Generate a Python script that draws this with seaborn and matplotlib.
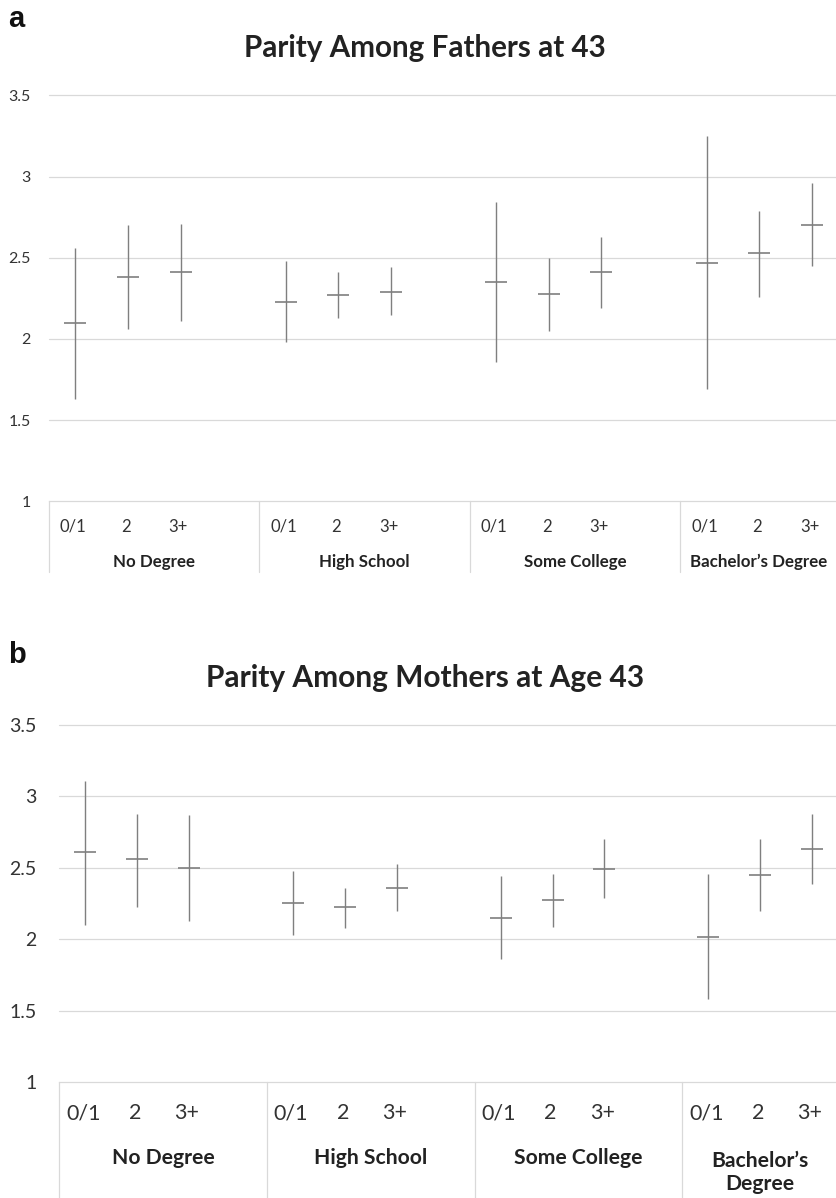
import matplotlib
matplotlib.use('Agg')
import matplotlib.pyplot as plt
import pandas as pd
import seaborn as sns

sns.set_theme(style='white')
plt.rcParams['font.family'] = ['Lato', 'DejaVu Sans']

# categories
groups = ['No Degree', 'High School', 'Some College', 'Bachelor’s Degree']
parity = ['0/1', '2', '3+']

# panel a - fathers (mean and interval ends)
fathers_mean = [2.10, 2.38, 2.41, 2.23, 2.27, 2.29, 2.35, 2.275, 2.41, 2.47, 2.53, 2.70]
fathers_low = [1.63, 2.06, 2.11, 1.98, 2.13, 2.15, 1.86, 2.05, 2.19, 1.69, 2.26, 2.45]
fathers_high = [2.56, 2.70, 2.71, 2.48, 2.41, 2.44, 2.84, 2.50, 2.63, 3.25, 2.79, 2.96]

# panel b - mothers
mothers_mean = [2.61, 2.56, 2.50, 2.255, 2.225, 2.36, 2.15, 2.275, 2.495, 2.02, 2.45, 2.63]
mothers_low = [2.10, 2.23, 2.13, 2.03, 2.08, 2.20, 1.865, 2.09, 2.29, 1.585, 2.20, 2.385]
mothers_high = [3.11, 2.88, 2.87, 2.48, 2.36, 2.525, 2.44, 2.46, 2.70, 2.46, 2.70, 2.88]

y_ticks = [1, 1.5, 2, 2.5, 3, 3.5]
y_labels = ['1', '1.5', '2', '2.5', '3', '3.5']

BAR = '#7f7f7f'
GRID = '#d9d9d9'
TXT = '#333333'
DARK = '#222222'
XMAX = 14.48


def make_df(mean, low, high):
    rows = []
    for gi, g in enumerate(groups):
        for pi, p in enumerate(parity):
            i = gi * 3 + pi
            # each group has 4 slots, the last one left empty
            rows.append({'group': g, 'parity': p, 'x': gi * 4 + pi,
                         'mean': mean[i], 'low': low[i], 'high': high[i]})
    return pd.DataFrame(rows)


def draw_panel(ax, df, fs):
    ax.vlines(df['x'], df['low'], df['high'], color=BAR, lw=1.0, zorder=3)
    sns.scatterplot(data=df, x='x', y='mean', marker='_', s=fs['mark'],
                    color=BAR, linewidth=1.2, ax=ax, zorder=4, legend=False)
    ax.set_xlim(-0.5, XMAX)
    ax.set_ylim(1, 3.5)
    ax.set_yticks(y_ticks)
    ax.set_yticklabels(y_labels, fontsize=fs['tick'], color=TXT)
    ax.set_xticks([])
    ax.set_xlabel('')
    ax.set_ylabel('')
    ax.tick_params(axis='y', length=0, pad=fs['pad'])
    for v in y_ticks[1:]:
        ax.axhline(v, color=GRID, lw=0.9, zorder=1, clip_on=False)
    sns.despine(ax=ax, left=True, top=True, right=True)
    ax.spines['bottom'].set_color(GRID)
    ax.spines['bottom'].set_linewidth(0.9)

    tr = ax.get_xaxis_transform()
    for gi in range(len(groups)):
        ax.plot([gi * 4 - 0.5] * 2, [0, fs['sep']], transform=tr,
                color=GRID, lw=0.9, clip_on=False)
    for _, r in df.iterrows():
        ax.text(r['x'] - 0.04, fs['sub_y'], r['parity'], transform=tr, ha='center',
                va='center', fontsize=fs['sub'], color=TXT)
    for gi, g in enumerate(groups):
        cx = gi * 4 + 1.5
        if gi == len(groups) - 1:
            cx = (gi * 4 - 0.5 + XMAX) / 2
        label = g
        gy = fs['grp_y']
        if fs['wrap'] and gi == len(groups) - 1:
            label = 'Bachelor’s\nDegree'
            gy = fs['grp_y2']
        ax.text(cx, gy, label, transform=tr, ha='center', va='center',
                fontsize=fs['grp'], fontweight='bold', color=DARK,
                linespacing=fs['ls'])


fig = plt.figure(figsize=(8.37, 11.98), dpi=100)
W, H = 837, 1198

ax_a = fig.add_axes([49 / W, 1 - 501.3 / H, (W - 49) / W, 406 / H])
ax_b = fig.add_axes([59.3 / W, 1 - 1082.3 / H, (W - 59.3) / W, 357.3 / H])

draw_panel(ax_a, make_df(fathers_mean, fathers_low, fathers_high),
           {'mark': 240, 'tick': 11.5, 'pad': 13, 'sub': 12, 'grp': 12.2,
            'sub_y': -0.063, 'grp_y': -0.149, 'sep': -0.174, 'wrap': False,
            'grp_y2': -0.149, 'ls': 1.2})
draw_panel(ax_b, make_df(mothers_mean, mothers_low, mothers_high),
           {'mark': 240, 'tick': 14, 'pad': 16.3, 'sub': 15.5, 'grp': 15.2,
            'sub_y': -0.087, 'grp_y': -0.213, 'sep': -0.33, 'wrap': True,
            'grp_y2': -0.252, 'ls': 1.15})

fig.text(425 / W, 1 - 57 / H, 'Parity Among Fathers at 43', ha='center',
         va='baseline', fontsize=21.3, fontweight='bold', color=DARK)
fig.text(425 / W, 1 - 686.7 / H, 'Parity Among Mothers at Age 43', ha='center',
         va='baseline', fontsize=21.5, fontweight='bold', color=DARK)
fig.text(8 / W, 1 - 27 / H, 'a', ha='left', va='baseline', fontsize=21,
         fontweight='bold', color='#111111', family=['Liberation Sans', 'DejaVu Sans'])
fig.text(8 / W, 1 - 663 / H, 'b', ha='left', va='baseline', fontsize=21,
         fontweight='bold', color='#111111', family=['Liberation Sans', 'DejaVu Sans'])

fig.savefig('out.png', dpi=100)
